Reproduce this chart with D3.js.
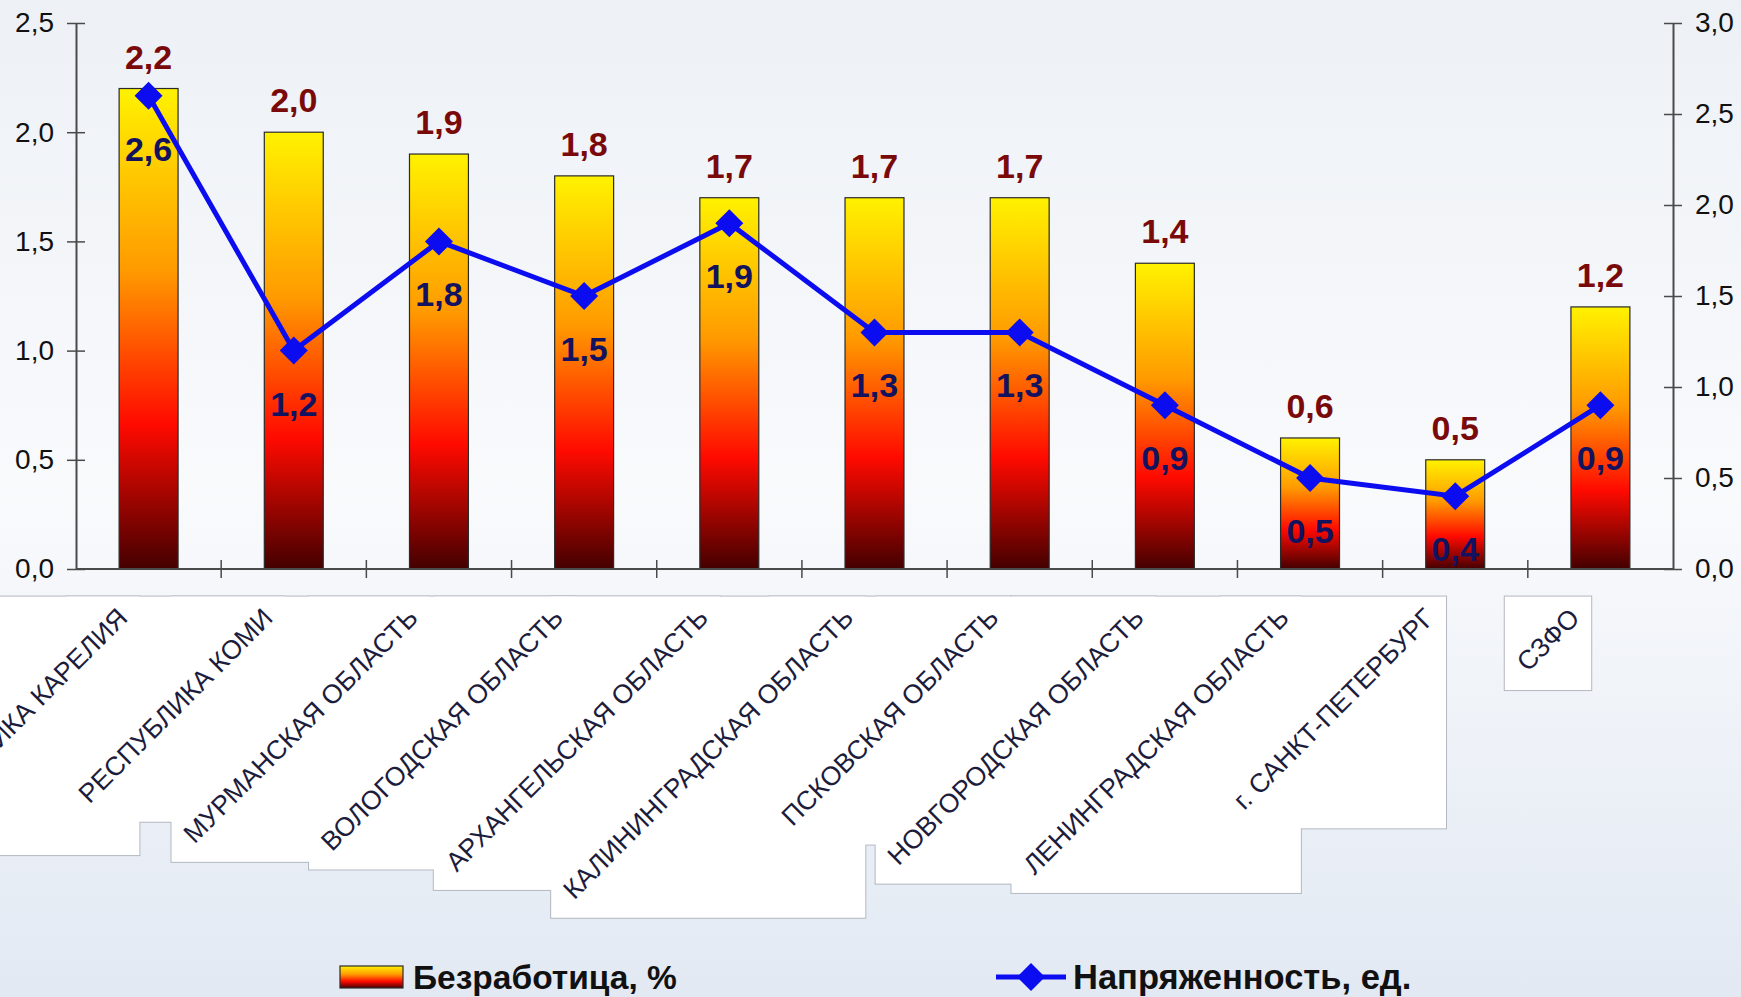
<!DOCTYPE html>
<html>
<head>
<meta charset="utf-8">
<script src="https://cdn.jsdelivr.net/npm/d3@7"></script>
<style>
  body { margin: 0; overflow: hidden; }
  svg text { font-family: "Liberation Sans", Arial, sans-serif; }
</style>
</head>
<body>
<div id="chart"></div>
<script>
// regions
const regions = [
    "РЕСПУБЛИКА КАРЕЛИЯ", "РЕСПУБЛИКА КОМИ", "МУРМАНСКАЯ ОБЛАСТЬ",
    "ВОЛОГОДСКАЯ ОБЛАСТЬ", "АРХАНГЕЛЬСКАЯ ОБЛАСТЬ", "КАЛИНИНГРАДСКАЯ ОБЛАСТЬ",
    "ПСКОВСКАЯ ОБЛАСТЬ", "НОВГОРОДСКАЯ ОБЛАСТЬ", "ЛЕНИНГРАДСКАЯ ОБЛАСТЬ",
    "г. САНКТ-ПЕТЕРБУРГ", "СЗФО"
];
// unemployment, %
const unemployment = [2.2, 2.0, 1.9, 1.8, 1.7, 1.7, 1.7, 1.4, 0.6, 0.5, 1.2];
// tension, units
const tension = [2.6, 1.2, 1.8, 1.5, 1.9, 1.3, 1.3, 0.9, 0.5, 0.4, 0.9];
const leftTicks = [0, 0.5, 1.0, 1.5, 2.0, 2.5];
const rightTicks = [0, 0.5, 1.0, 1.5, 2.0, 2.5, 3.0];
const legendLabels = ["Безработица, %", "Напряженность, ед."];

const W = 1741, H = 997;
const margin = {top: 23, right: 68, bottom: 428, left: 76};
const width = W - margin.left - margin.right;
const height = H - margin.top - margin.bottom;

const fmt = d3.formatLocale({decimal: ",", thousands: " ", grouping: [3], currency: ["", ""]}).format(".1f");

const data = regions.map((r, i) => ({region: r, u: unemployment[i], t: tension[i]}));

const x = d3.scaleBand()
    .domain(regions)
    .range([0, width])
    .paddingInner(0.594)
    .paddingOuter(0.297);

const y = d3.scaleLinear().domain([0, 2.5]).range([height, 0]);
const y2 = d3.scaleLinear().domain([0, 3]).range([height, 0]);

const svg = d3.select("#chart").append("svg")
    .attr("width", W)
    .attr("height", H);

const defs = svg.append("defs");

const bg = defs.append("linearGradient")
    .attr("id", "bg").attr("x1", 0).attr("y1", 0).attr("x2", 0).attr("y2", 1);
bg.append("stop").attr("offset", "0%").attr("stop-color", "#edf1f6");
bg.append("stop").attr("offset", "50%").attr("stop-color", "#f9fafc");
bg.append("stop").attr("offset", "100%").attr("stop-color", "#e2e9f3");

const barGrad = defs.append("linearGradient")
    .attr("id", "barGrad").attr("x1", 0).attr("y1", 0).attr("x2", 0).attr("y2", 1);
barGrad.append("stop").attr("offset", "0%").attr("stop-color", "#fff200");
barGrad.append("stop").attr("offset", "38%").attr("stop-color", "#ff9a00");
barGrad.append("stop").attr("offset", "70%").attr("stop-color", "#ff0a00");
barGrad.append("stop").attr("offset", "100%").attr("stop-color", "#430000");

svg.append("rect").attr("width", W).attr("height", H).attr("fill", "url(#bg)");

const g = svg.append("g")
    .attr("transform", `translate(${margin.left},${margin.top})`);

// category labels with white boxes behind
const boxLayer = g.append("g");
const boxFillLayer = g.append("g");
const labelLayer = g.append("g");

const labels = labelLayer.selectAll("text")
    .data(data)
    .join("text")
    .attr("transform", d => `translate(${x(d.region) + x.bandwidth() / 2 - 26},${height + 44}) rotate(-45)`)
    .attr("text-anchor", "end")
    .attr("dy", "0.35em")
    .style("font-size", "26.5px")
    .attr("fill", "#1c1c3c")
    .text(d => d.region);

const boxes = [];
labels.each(function() {
    const b = this.getBBox();
    const m = this.getCTM();
    const pts = [[b.x, b.y], [b.x + b.width, b.y], [b.x, b.y + b.height], [b.x + b.width, b.y + b.height]]
        .map(([px, py]) => {
            const p = new DOMPoint(px, py).matrixTransform(m);
            return [p.x - margin.left, p.y - margin.top];
        });
    const xs = pts.map(p => p[0]), ys = pts.map(p => p[1]);
    boxes.push({x0: d3.min(xs) + 4, x1: d3.max(xs) - 4, y0: d3.min(ys) + 4, y1: d3.max(ys) + 3});
});
const pad = 10;
boxLayer.selectAll("rect").data(boxes).join("rect")
    .attr("x", d => d.x0 - pad).attr("y", d => d.y0 - pad)
    .attr("width", d => d.x1 - d.x0 + 2 * pad).attr("height", d => d.y1 - d.y0 + 2 * pad)
    .attr("fill", "#ffffff").attr("stroke", "#b3b8c0").attr("stroke-width", 2);
boxFillLayer.selectAll("rect").data(boxes).join("rect")
    .attr("x", d => d.x0 - pad).attr("y", d => d.y0 - pad)
    .attr("width", d => d.x1 - d.x0 + 2 * pad).attr("height", d => d.y1 - d.y0 + 2 * pad)
    .attr("fill", "#ffffff");

// bars
g.append("g").selectAll("rect")
    .data(data)
    .join("rect")
    .attr("x", d => x(d.region))
    .attr("y", d => y(d.u))
    .attr("width", x.bandwidth())
    .attr("height", d => height - y(d.u))
    .attr("fill", "url(#barGrad)")
    .attr("stroke", "#2a2a2a")
    .attr("stroke-width", 1.2);

// axes
const axisColor = "#4a4a4a";
const xAxis = g.append("g").attr("transform", `translate(0,${height})`);
xAxis.append("line").attr("x1", 0).attr("x2", width).attr("stroke", axisColor).attr("stroke-width", 2);
xAxis.selectAll(".sep")
    .data(regions.slice(1))
    .join("line")
    .attr("class", "sep")
    .attr("x1", d => x(d) - x.step() * x.paddingInner() / 2)
    .attr("x2", d => x(d) - x.step() * x.paddingInner() / 2)
    .attr("y1", -9).attr("y2", 9)
    .attr("stroke", axisColor).attr("stroke-width", 1.5);

const yAxis = g.append("g")
    .call(d3.axisLeft(y).tickValues(leftTicks).tickFormat(fmt).tickSizeInner(18).tickSizeOuter(0).tickPadding(4))
    .attr("font-family", null).attr("font-size", null);
yAxis.selectAll(".tick line").attr("transform", "translate(9,0)");
const y2Axis = g.append("g")
    .attr("transform", `translate(${width},0)`)
    .call(d3.axisRight(y2).tickValues(rightTicks).tickFormat(fmt).tickSizeInner(18).tickSizeOuter(0).tickPadding(4))
    .attr("font-family", null).attr("font-size", null);
y2Axis.selectAll(".tick line").attr("transform", "translate(-9,0)");
[yAxis, y2Axis].forEach(a => {
    a.select(".domain").attr("stroke", axisColor).attr("stroke-width", 2);
    a.selectAll(".tick line").attr("stroke", axisColor).attr("stroke-width", 1.5);
    a.selectAll(".tick text").style("font-size", "28px").attr("fill", "#111");
});

// tension line
const line = d3.line()
    .x(d => x(d.region) + x.bandwidth() / 2)
    .y(d => y2(d.t));
g.append("path")
    .datum(data)
    .attr("d", line)
    .attr("fill", "none")
    .attr("stroke", "#0c0cf0")
    .attr("stroke-width", 5);

const diamond = r => `M0,${-r}L${r},0L0,${r}L${-r},0Z`;
g.append("g").selectAll("path")
    .data(data)
    .join("path")
    .attr("transform", d => `translate(${x(d.region) + x.bandwidth() / 2},${y2(d.t)})`)
    .attr("d", diamond(14))
    .attr("fill", "#0c0cf0");

// value labels
g.append("g").selectAll("text")
    .data(data)
    .join("text")
    .attr("x", d => x(d.region) + x.bandwidth() / 2)
    .attr("y", d => y(d.u) - 20)
    .attr("text-anchor", "middle")
    .style("font-size", "34px")
    .style("font-weight", "bold")
    .attr("fill", "#7a0a0a")
    .text(d => fmt(d.u));

g.append("g").selectAll("text")
    .data(data)
    .join("text")
    .attr("x", d => x(d.region) + x.bandwidth() / 2)
    .attr("y", d => y2(d.t) + 65)
    .attr("text-anchor", "middle")
    .style("font-size", "34px")
    .style("font-weight", "bold")
    .attr("fill", "#12125e")
    .text(d => fmt(d.t));

// legend
const legend = svg.append("g").attr("transform", "translate(0,977)");
legend.append("rect")
    .attr("x", 340).attr("y", -11).attr("width", 63).attr("height", 22)
    .attr("fill", "url(#barGrad)").attr("stroke", "#2a2a2a").attr("stroke-width", 1.2);
legend.append("text")
    .attr("x", 413).attr("dy", "0.35em")
    .style("font-size", "33.5px").style("font-weight", "bold").attr("fill", "#111")
    .text(legendLabels[0]);
legend.append("line")
    .attr("x1", 996).attr("x2", 1066)
    .attr("stroke", "#0c0cf0").attr("stroke-width", 5);
legend.append("path")
    .attr("transform", "translate(1031,0)")
    .attr("d", diamond(14))
    .attr("fill", "#0c0cf0");
legend.append("text")
    .attr("x", 1073).attr("dy", "0.35em")
    .style("font-size", "34.5px").style("font-weight", "bold").attr("fill", "#111")
    .text(legendLabels[1]);
</script>
</body>
</html>
